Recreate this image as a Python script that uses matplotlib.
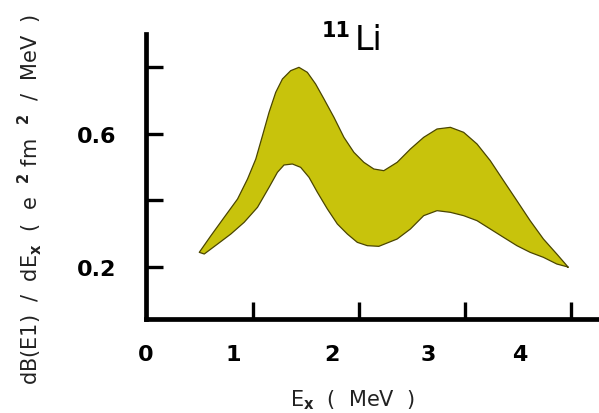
import matplotlib
matplotlib.use("Agg")
import matplotlib.pyplot as plt
import numpy as np

# Upper and lower edges of the dB(E1)/dEx band for 11Li
upper_ex = [0.497, 0.607, 0.732, 0.858, 0.952, 1.030, 1.093, 1.155, 1.218, 1.281,
            1.359, 1.437, 1.516, 1.594, 1.673, 1.767, 1.861, 1.955, 2.049, 2.143,
            2.237, 2.363, 2.488, 2.613, 2.739, 2.865, 2.990, 3.116, 3.241, 3.366,
            3.492, 3.617, 3.742, 3.868, 3.977]
upper_db = [0.244, 0.294, 0.349, 0.404, 0.464, 0.524, 0.594, 0.664, 0.724, 0.764,
            0.789, 0.799, 0.784, 0.749, 0.704, 0.649, 0.589, 0.544, 0.514, 0.494,
            0.489, 0.514, 0.554, 0.589, 0.614, 0.619, 0.604, 0.569, 0.519, 0.459,
            0.399, 0.339, 0.284, 0.239, 0.199]
lower_ex = [0.544, 0.670, 0.795, 0.920, 1.046, 1.155, 1.234, 1.296, 1.375, 1.453,
            1.532, 1.611, 1.705, 1.799, 1.893, 1.987, 2.081, 2.190, 2.363, 2.488,
            2.613, 2.739, 2.865, 2.990, 3.116, 3.241, 3.366, 3.492, 3.617, 3.742,
            3.868, 3.962]
lower_db = [0.239, 0.269, 0.299, 0.334, 0.379, 0.439, 0.484, 0.506, 0.509, 0.499,
            0.469, 0.424, 0.374, 0.329, 0.299, 0.274, 0.264, 0.262, 0.284, 0.314,
            0.354, 0.369, 0.364, 0.354, 0.339, 0.314, 0.289, 0.264, 0.244, 0.229,
            0.209, 0.201]

x_ticks = [1, 2, 3, 4]
x_ticklabels = ["0", "1", "2", "3", "4"]
y_ticks = [0.2, 0.4, 0.6, 0.8]
y_ticklabels = ["0.2", "", "0.6", ""]

BAND_FACE = "#c8c30c"
BAND_EDGE = "#4a4500"

W, H = 599, 414
fig = plt.figure(figsize=(W / 100, H / 100), dpi=100)
ax = fig.add_axes([145.5 / W, (H - 320) / H, 1 - 145.5 / W, (320 - 35) / H])

band_x = np.concatenate([upper_ex, lower_ex[::-1]])
band_y = np.concatenate([upper_db, lower_db[::-1]])
ax.fill(band_x, band_y, facecolor=BAND_FACE, edgecolor=BAND_EDGE, lw=0.9,
        joinstyle="round")

ax.set_xlim(0, (W - 145.5) / 106.3)
ax.set_ylim(0.044, 0.899)

for side in ("top", "right"):
    ax.spines[side].set_visible(False)
for side in ("left", "bottom"):
    ax.spines[side].set_linewidth(3.4)
    ax.spines[side].set_capstyle("projecting")

ax.set_xticks(x_ticks, [""] * len(x_ticks))
ax.set_yticks(y_ticks, y_ticklabels)
ax.tick_params(axis="both", which="major", direction="in", length=12, width=2.4,
               color="black")
ax.tick_params(axis="y", which="major", pad=21, labelsize=16)
for lab in ax.get_yticklabels():
    lab.set_fontweight("bold")

# tick labels along Ex sit a little left of the tick marks
label_pos = [-0.01, 0.82, 1.745, 2.66, 3.52]
ax.set_xticks(label_pos, x_ticklabels, minor=True)
ax.tick_params(axis="x", which="minor", length=0, pad=18, labelsize=16)
for lab in ax.get_xticklabels(minor=True):
    lab.set_fontweight("bold")

fig.text(322 / W, 1 - 37 / H, "11", fontsize=15, fontweight="bold",
         ha="left", va="baseline")
fig.text(355 / W, 1 - 50 / H, "Li", fontsize=24, ha="left", va="baseline")

fig.text(30 / W, 1 - 199 / H,
         r"dB(E1)  /  dE$_{\mathbf{x}}$  (  e  $^{\mathbf{2}}$ fm  $^{\mathbf{2}}$  /  MeV  )",
         rotation=90, fontsize=15, color="#222222", ha="center", va="center")
fig.text(352 / W, 1 - 406 / H, r"E$_{\mathbf{x}}$  (  MeV  )",
         fontsize=15, color="#222222", ha="center", va="baseline")

fig.savefig("out.png", dpi=100)
